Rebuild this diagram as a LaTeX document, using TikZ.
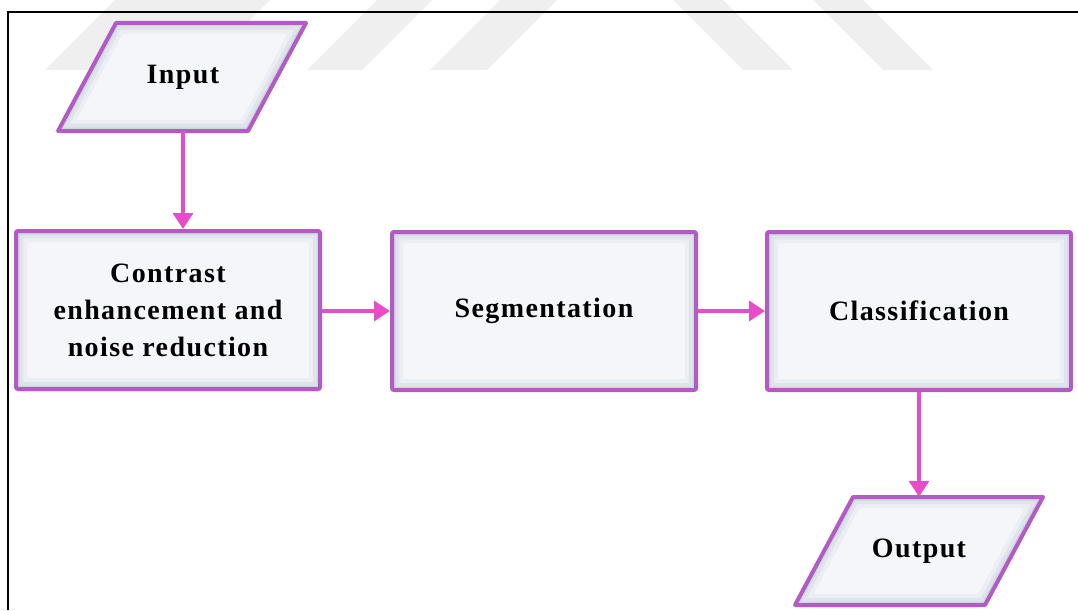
\documentclass[tikz,border=0pt]{standalone}
\usepackage{fontspec}
\setmainfont{Liberation Serif}
\usetikzlibrary{positioning,arrows.meta}

\definecolor{boxline}{HTML}{B25BC4}
\definecolor{arrowpink}{HTML}{E84CC8}
\definecolor{boxfill}{HTML}{F4F6FA}
\definecolor{glow}{HTML}{5E7490}
\definecolor{wmark}{HTML}{EFEFEF}

\tikzset{
  boxtext/.style={font=\fontsize{28}{37}\selectfont\bfseries\addfontfeatures{LetterSpace=5}},
  procbox/.style={draw=boxline, line width=4pt, fill=boxfill, rounded corners=2pt,
    minimum width=304pt, minimum height=158pt, align=center, boxtext,
    path picture={
      \foreach \w/\o in {22/0.06, 14/0.08, 7/0.12}
        \draw[glow, line width=\w pt, opacity=\o]
          (path picture bounding box.south west) rectangle (path picture bounding box.north east);
    }},
  iobox/.style={minimum width=190pt, minimum height=108pt, inner sep=0pt, boxtext},
  flow/.style={draw=arrowpink, line width=3.5pt, -{Triangle[width=20pt,length=16pt]}},
}

% parallelogram plate behind an in/out node, centre at (#1,#2)
\newcommand{\ioplate}[2]{%
    \path[fill=boxfill] (#1-124,#2+54) -- (#1+66,#2+54) -- (#1+124,#2-54) -- (#1-66,#2-54) -- cycle;
    \begin{scope}
        \clip (#1-124,#2+54) -- (#1+66,#2+54) -- (#1+124,#2-54) -- (#1-66,#2-54) -- cycle;
        \foreach \w/\o in {22/0.06, 14/0.08, 7/0.12}
            \draw[glow, line width=\w pt, opacity=\o] (#1-124,#2+54) -- (#1+66,#2+54) -- (#1+124,#2-54) -- (#1-66,#2-54) -- cycle;
    \end{scope}
    \draw[boxline, line width=4pt, line join=round] (#1-124,#2+54) -- (#1+66,#2+54) -- (#1+124,#2-54) -- (#1-66,#2-54) -- cycle;
}

\begin{document}
\begin{tikzpicture}[x=1pt,y=-1pt]
    \useasboundingbox (0,0) rectangle (1078,610);
    % watermark
    \fill[wmark] (45,70) -- (200,70) -- (270,0) -- (115,0) -- cycle;
    \fill[wmark] (307,70) -- (362,70) -- (432,0) -- (377,0) -- cycle;
    \fill[wmark] (430,70) -- (487,70) -- (557,0) -- (500,0) -- cycle;
    \fill[wmark] (673,0) -- (723,0) -- (793,70) -- (743,70) -- cycle;
    \fill[wmark] (813,0) -- (863,0) -- (933,70) -- (883,70) -- cycle;
    % frame
    \draw[line width=1.5pt] (8,610) -- (8,12) -- (1078,12);

    \ioplate{182}{77}
    \ioplate{919}{551}
    \node[iobox] (inp) at (183,77) {Input};
    \node[procbox] (enh) at (168,310) {Contrast\\enhancement and\\noise reduction};
    \node[procbox] (seg) at (544,311) {Segmentation};
    \node[procbox] (cls) at (919,311) {Classification};
    \node[iobox] (out) at (919,551) {Output};

    \draw[flow] (inp.south) -- (inp.south |- enh.north);
    \draw[flow] (enh.east |- seg.west) -- (seg.west);
    \draw[flow] (seg.east) -- (cls.west);
    \draw[flow] (cls.south) -- (out.north);
\end{tikzpicture}
\end{document}
